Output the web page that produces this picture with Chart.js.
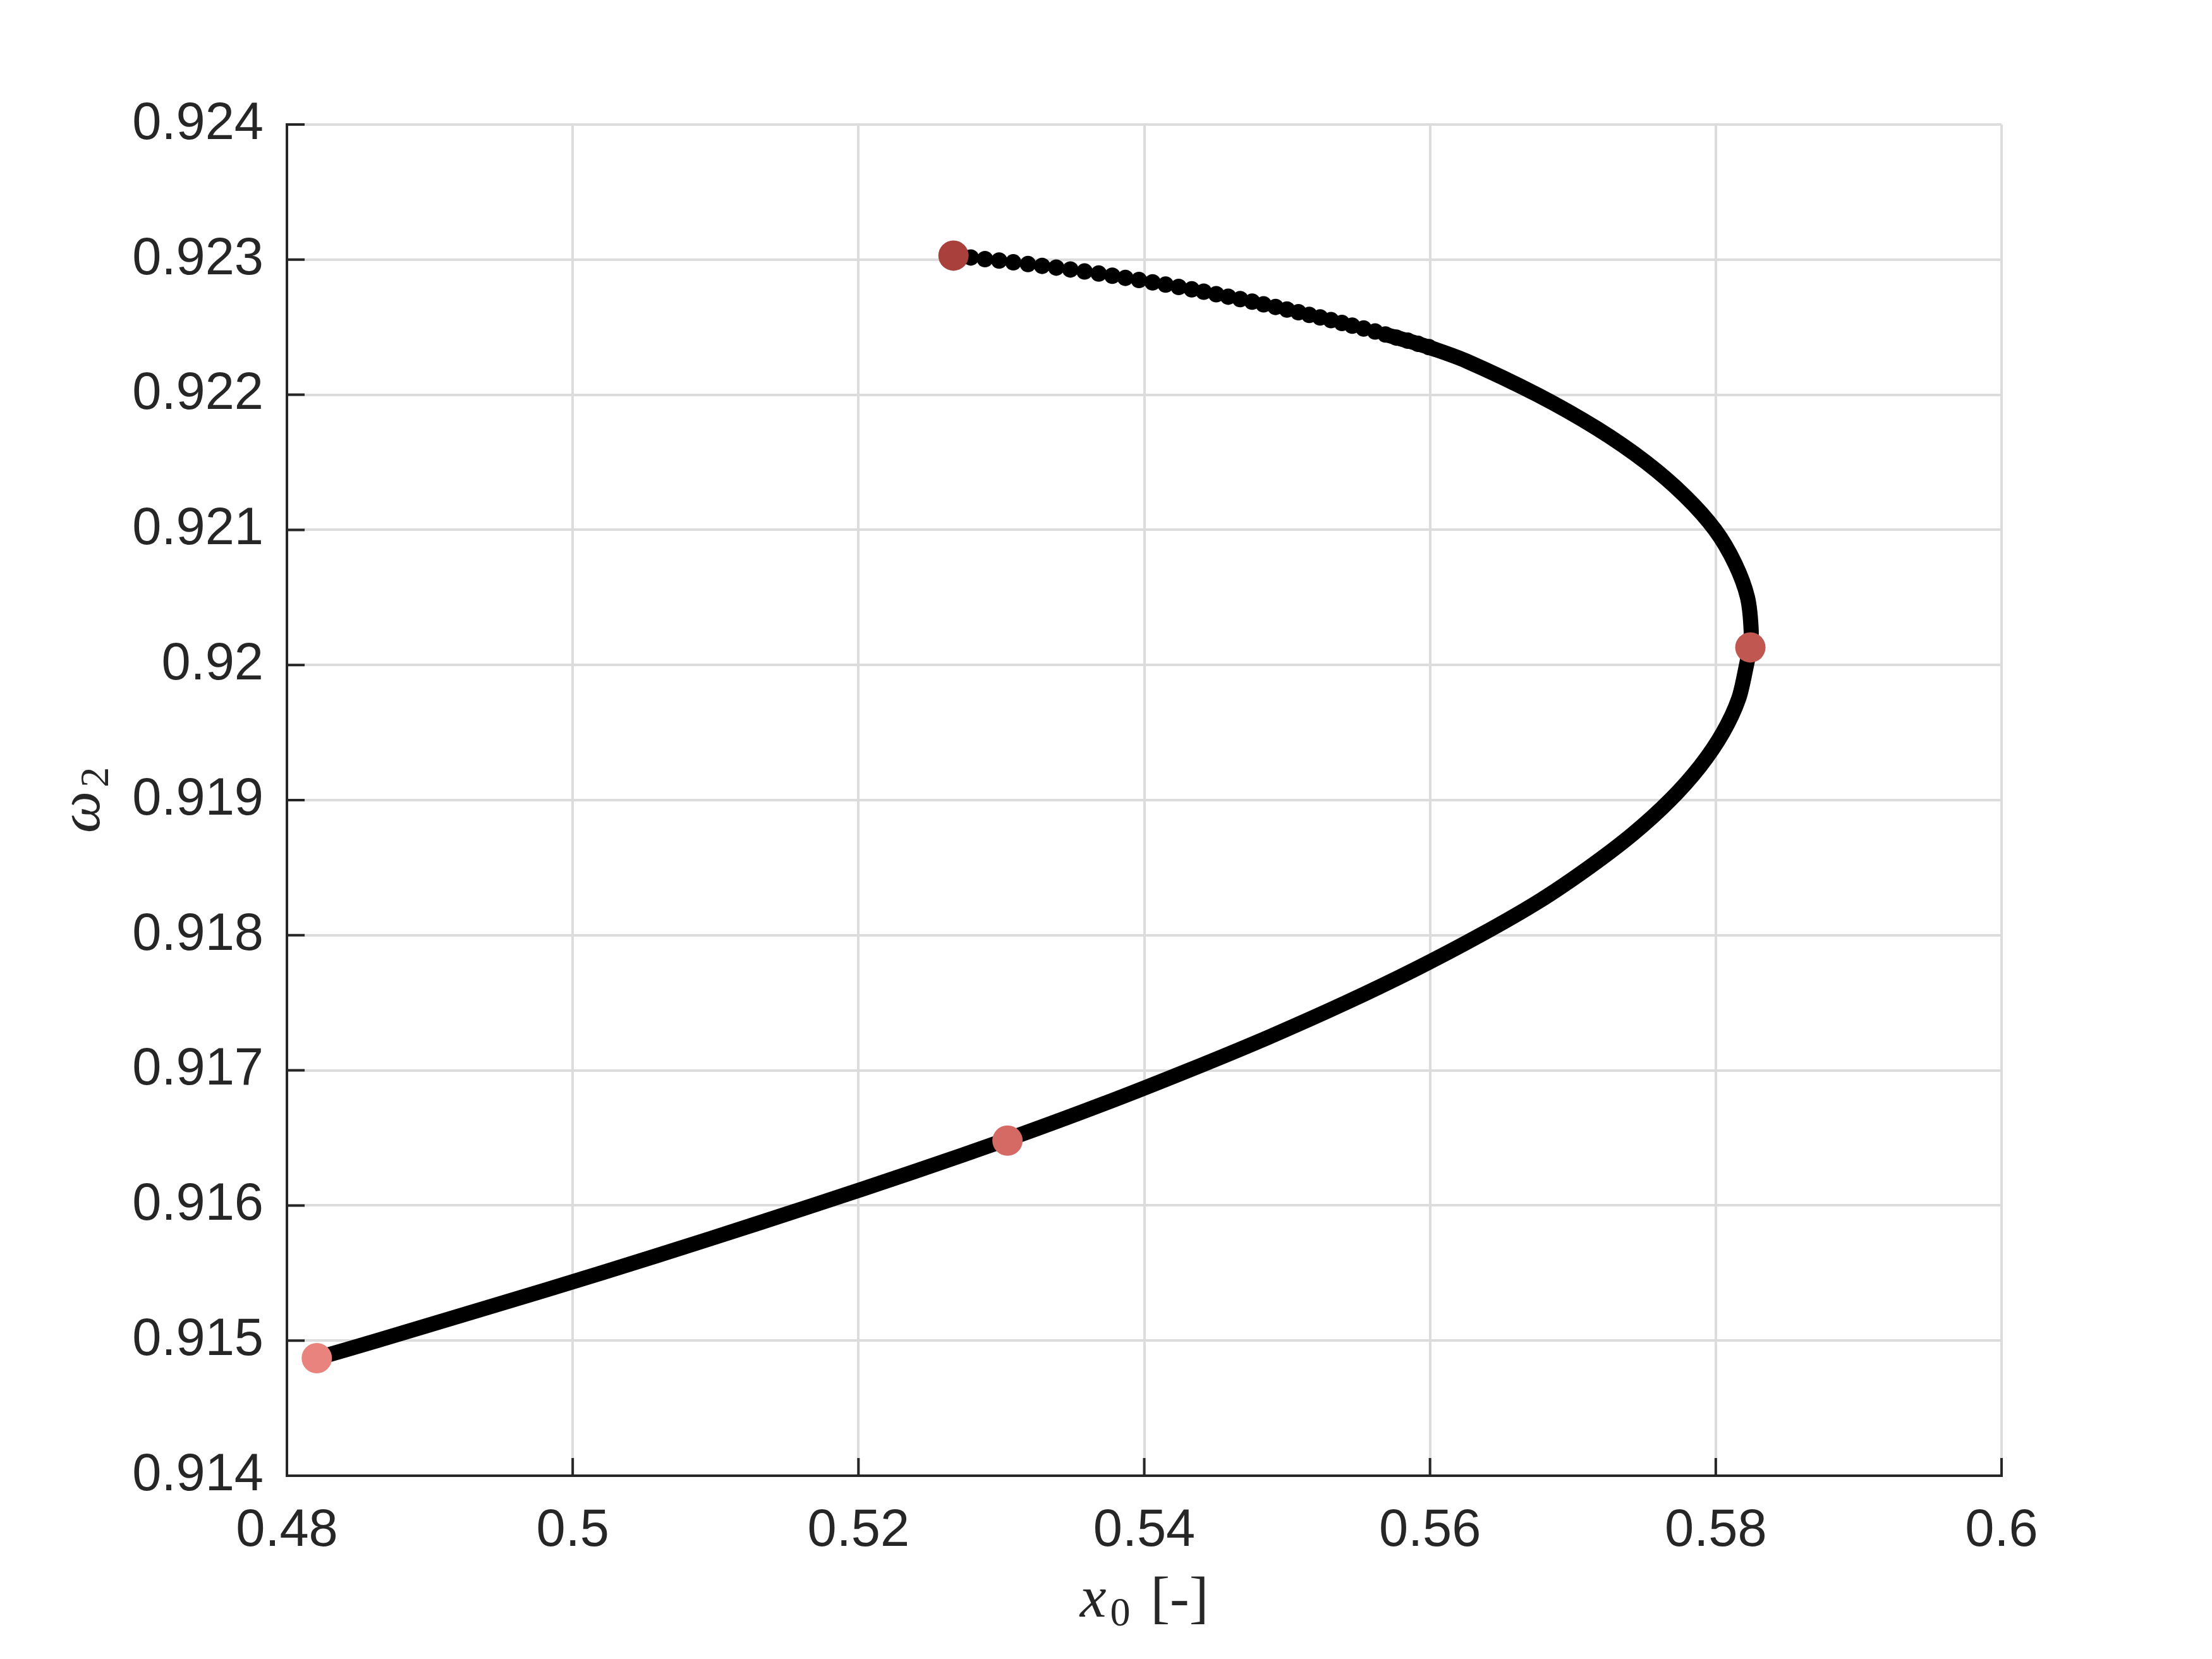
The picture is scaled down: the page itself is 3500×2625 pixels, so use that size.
<!DOCTYPE html>
<html>
<head>
<meta charset="utf-8">
<script src="https://cdn.jsdelivr.net/npm/chart.js@4.4.1/dist/chart.umd.min.js"></script>
<style>
  html, body { margin: 0; padding: 0; background: #ffffff; }
  #wrap { width: 3500px; height: 2625px; }
</style>
</head>
<body>
<div id="wrap"><canvas id="chart"></canvas></div>
<script>
// upper end of the branch: the markers are still apart here, read one by one
const dotX = [0.527863, 0.528853, 0.529843, 0.530834, 0.531862, 0.532852, 0.533842, 0.534832,
    0.535822, 0.536812, 0.537765, 0.538679, 0.539631, 0.540583, 0.541497, 0.542411, 0.543325,
    0.544163, 0.545038, 0.545876, 0.546714, 0.547552, 0.548351, 0.549189, 0.549989, 0.550789,
    0.551550, 0.552312, 0.553073, 0.553835, 0.554559, 0.555358, 0.556158, 0.556882, 0.557644,
    0.558443, 0.559167, 0.559929];
const dotY = [0.923016, 0.923004, 0.922993, 0.922980, 0.922967, 0.922954, 0.922941, 0.922927,
    0.922912, 0.922897, 0.922881, 0.922865, 0.922849, 0.922832, 0.922815, 0.922798, 0.922780,
    0.922763, 0.922744, 0.922726, 0.922708, 0.922689, 0.922669, 0.922650, 0.922631, 0.922611,
    0.922591, 0.922572, 0.922552, 0.922531, 0.922511, 0.922490, 0.922468, 0.922446, 0.922423,
    0.922400, 0.922377, 0.922352];

// rest of the branch, where the markers run together into a solid band
const bandX = [0.556882, 0.557644, 0.558443, 0.559167, 0.559929, 0.56255, 0.56752, 0.57169,
    0.57512, 0.57785, 0.57995, 0.58135, 0.58222, 0.58248, 0.58238, 0.58215, 0.58160, 0.58050,
    0.57890, 0.57680, 0.57420, 0.57110, 0.56760, 0.56350, 0.55900, 0.55410, 0.54880, 0.54310,
    0.53710, 0.53070, 0.52390, 0.51680, 0.50950, 0.50200, 0.49420, 0.48630, 0.48209];
const bandY = [0.922446, 0.922423, 0.922400, 0.922377, 0.922352, 0.92225, 0.92200, 0.92175,
    0.92150, 0.92125, 0.92100, 0.92075, 0.92050, 0.92025, 0.92013, 0.92000, 0.91975, 0.91950,
    0.91925, 0.91900, 0.91875, 0.91850, 0.91825, 0.91800, 0.91775, 0.91750, 0.91725, 0.91700,
    0.91675, 0.91650, 0.91625, 0.91600, 0.91575, 0.91550, 0.91525, 0.91500, 0.91487];

// highlighted points
const markX = [0.52665, 0.58242, 0.53043, 0.48209];
const markY = [0.92303, 0.92013, 0.91648, 0.91487];
const markColors = ['#A9403B', '#C05851', '#D56A65', '#E8837E'];

const xTicks = [0.48, 0.50, 0.52, 0.54, 0.56, 0.58, 0.60];
const xTickLabels = ['0.48', '0.5', '0.52', '0.54', '0.56', '0.58', '0.6'];
const yTicks = [0.914, 0.915, 0.916, 0.917, 0.918, 0.919, 0.920, 0.921, 0.922, 0.923, 0.924];
const yTickLabels = ['0.914', '0.915', '0.916', '0.917', '0.918', '0.919', '0.92', '0.921', '0.922', '0.923', '0.924'];

// axis titles: [base, subscript, rest]
const xTitle = ['x', '0', '[-]'];
const yTitle = ['\u03C9', '2', ''];

const axisColor = '#262626';

function pairs(xs, ys) {
    return xs.map((x, i) => ({ x: x, y: ys[i] }));
}

// MATLAB style ticks that point into the axes
const innerTicks = {
    id: 'innerTicks',
    beforeDatasetsDraw(chart) {
        const { ctx, chartArea, scales } = chart;
        ctx.save();
        ctx.strokeStyle = axisColor;
        ctx.lineWidth = 4;
        ctx.beginPath();
        xTicks.forEach(v => {
            const px = scales.x.getPixelForValue(v);
            ctx.moveTo(px, chartArea.bottom);
            ctx.lineTo(px, chartArea.bottom - 28);
        });
        yTicks.forEach(v => {
            const py = scales.y.getPixelForValue(v);
            ctx.moveTo(chartArea.left, py);
            ctx.lineTo(chartArea.left + 28, py);
        });
        ctx.stroke();
        ctx.restore();
    }
};

// the titles mix italic, subscript and upright text, so they are set by hand
function drawMathTitle(ctx, parts, cx, baseline) {
    const fItalic = 'italic 94px "Liberation Serif"';
    const fSub = '64px "Liberation Serif"';
    const fText = '92px "Liberation Serif"';
    ctx.font = fItalic;
    const w1 = ctx.measureText(parts[0]).width;
    ctx.font = fSub;
    const w2 = ctx.measureText(parts[1]).width;
    ctx.font = fText;
    const w3 = ctx.measureText(parts[2]).width;
    const gap = parts[2] ? 32 : 0;
    let x = cx - (w1 + 6 + w2 + gap + w3) / 2;
    ctx.textAlign = 'left';
    ctx.textBaseline = 'alphabetic';
    ctx.font = fItalic;
    ctx.fillText(parts[0], x, baseline);
    x += w1 + 6;
    ctx.font = fSub;
    ctx.fillText(parts[1], x, baseline + 14);
    x += w2 + gap;
    ctx.font = fText;
    ctx.fillText(parts[2], x, baseline);
}

const mathTitles = {
    id: 'mathTitles',
    afterDraw(chart) {
        const { ctx, chartArea } = chart;
        ctx.save();
        ctx.fillStyle = axisColor;
        drawMathTitle(ctx, xTitle, (chartArea.left + chartArea.right) / 2, chartArea.bottom + 223);
        ctx.translate(chartArea.left - 297, (chartArea.top + chartArea.bottom) / 2);
        ctx.rotate(-Math.PI / 2);
        drawMathTitle(ctx, yTitle, 0, 0);
        ctx.restore();
    }
};

const tickFont = { family: '"Liberation Sans", Arial, sans-serif', size: 83 };

const config = {
    type: 'scatter',
    data: {
        datasets: [
            {
                label: 'marks',
                data: pairs(markX, markY),
                pointRadius: 24,
                pointBackgroundColor: markColors,
                pointBorderWidth: 0,
                showLine: false,
                order: 0,
            },
            {
                label: 'dots',
                data: pairs(dotX, dotY),
                pointRadius: 13,
                pointBackgroundColor: '#000000',
                pointBorderWidth: 0,
                showLine: false,
                order: 1,
            },
            {
                label: 'band',
                data: pairs(bandX, bandY),
                showLine: true,
                borderColor: '#000000',
                borderWidth: 24,
                borderCapStyle: 'round',
                borderJoinStyle: 'round',
                pointRadius: 0,
                tension: 0.3,
                order: 2,
            },
        ],
    },
    options: {
        responsive: true,
        maintainAspectRatio: false,
        animation: false,
        events: [],
        layout: { padding: { left: 0, right: 333, top: 197, bottom: 0 } },
        plugins: {
            legend: { display: false },
            tooltip: { enabled: false },
        },
        scales: {
            x: {
                type: 'linear',
                min: 0.48,
                max: 0.6,
                afterBuildTicks: scale => { scale.ticks = xTicks.map(v => ({ value: v })); },
                afterFit: scale => { scale.height = 290; },
                grid: { color: '#dcdcdc', lineWidth: 4, drawTicks: false },
                border: { display: true, color: axisColor, width: 4 },
                ticks: {
                    color: axisColor,
                    font: tickFont,
                    padding: 38,
                    maxRotation: 0,
                    callback: (v, i) => xTickLabels[i],
                },
            },
            y: {
                type: 'linear',
                min: 0.914,
                max: 0.924,
                afterBuildTicks: scale => { scale.ticks = yTicks.map(v => ({ value: v })); },
                afterFit: scale => { scale.width = 454; },
                grid: { color: '#dcdcdc', lineWidth: 4, drawTicks: false },
                border: { display: true, color: axisColor, width: 4 },
                ticks: {
                    color: axisColor,
                    font: tickFont,
                    padding: 37,
                    callback: (v, i) => yTickLabels[i],
                },
            },
        },
    },
    plugins: [innerTicks, mathTitles],
};

const chartElement = document.getElementById('chart');
window.myChart = new Chart(chartElement, config);
</script>
</body>
</html>
